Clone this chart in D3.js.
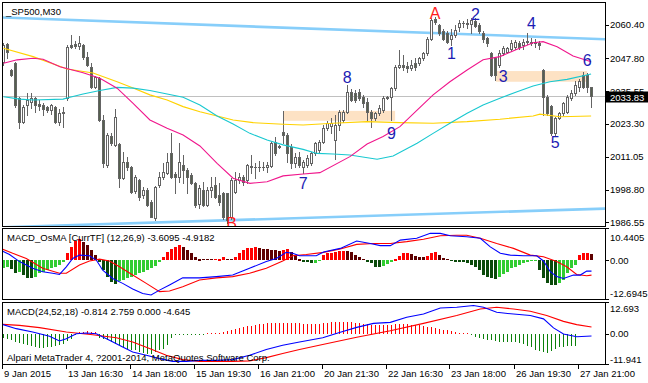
<!DOCTYPE html>
<html><head><meta charset="utf-8">
<script src="https://cdn.jsdelivr.net/npm/d3@7"></script>
<style>
html,body{margin:0;padding:0;background:#fff;}
svg{display:block;font-family:"Liberation Sans",Arial,sans-serif;}
</style></head><body>
<svg id="c" width="648" height="383"></svg>
<script>
// ---------------- DATA ----------------
const symbolTitle = "_SP500,M30";
// [open, high, low, close] per bar
const ohlc = [
[2046.5,2053.6,2045.4,2052.9],[2053.2,2053.6,2048.0,2050.2],[2043.5,2043.7,2041.3,2041.6],[2046.0,2046.6,2029.8,2030.4],
[2032.9,2033.5,2021.7,2024.2],[2024.2,2030.4,2023.8,2029.5],[2030.4,2035.0,2026.7,2032.3],[2031.6,2035.0,2029.2,2032.9],
[2032.9,2033.3,2027.9,2030.4],[2030.8,2032.3,2028.5,2030.0],[2030.4,2031.3,2026.7,2028.8],[2029.5,2030.0,2027.9,2028.5],
[2028.5,2030.8,2027.0,2030.4],[2029.8,2030.0,2023.5,2024.2],[2024.2,2028.8,2022.9,2027.5],[2027.9,2029.5,2022.3,2027.3],
[2032.9,2052.9,2032.3,2052.2],[2052.9,2056.6,2051.8,2052.2],[2053.2,2054.5,2051.6,2052.5],[2052.5,2056.2,2051.2,2053.5],
[2052.9,2053.2,2047.5,2048.5],[2048.5,2050.4,2045.0,2045.4],[2044.7,2046.0,2036.8,2037.3],[2037.3,2041.3,2036.6,2040.8],
[2040.4,2041.0,2024.3,2024.8],[2024.8,2026.7,2007.3,2008.6],[2008.0,2020.1,2007.3,2019.2],[2018.8,2019.8,2015.4,2016.3],
[2015.4,2028.8,2015.0,2026.0],[2015.8,2016.1,1999.8,2003.0],[2003.0,2012.9,2002.6,2009.2],[2009.2,2011.1,2006.1,2007.3],
[2007.3,2007.6,1997.4,1998.0],[1998.4,2004.2,1997.4,2003.6],[2002.3,2002.6,1994.9,1996.1],[1996.7,1999.8,1995.5,1998.6],
[1998.6,1999.2,1992.6,1993.0],[1994.2,1994.9,1988.4,1988.6],[1988.0,2000.1,1987.4,1999.8],[2000.5,2005.5,1999.6,2003.6],
[2003.6,2008.8,2002.6,2005.5],[2004.8,2012.3,2004.6,2009.2],[2012.6,2019.8,2003.2,2003.6],[2004.6,2005.5,1997.4,2003.6],
[2003.6,2016.1,2001.7,2009.2],[2008.0,2011.7,2001.1,2006.1],[2006.1,2006.7,1997.4,2003.6],[2004.2,2004.8,2000.9,2001.3],
[2001.1,2001.7,1992.4,1993.0],[1993.4,2000.5,1991.7,1999.2],[1998.6,2001.7,1992.6,1993.0],[1993.0,1999.8,1992.6,1998.6],
[1998.6,2003.6,1996.1,1999.8],[2000.5,2003.6,1995.5,1996.1],[1996.7,2001.1,1993.0,1994.2],[1997.4,1998.0,1987.6,1988.6],
[1997.4,1997.6,1986.1,1987.4],[1988.6,2003.0,1987.6,2002.3],[1998.0,2005.5,1997.6,2002.3],[2002.3,2005.1,2001.1,2003.6],
[2003.6,2004.2,2000.5,2001.7],[2002.3,2008.3,2001.3,2008.0],[2007.6,2011.7,2004.8,2007.1],[2007.3,2008.6,2003.0,2007.4],
[2007.3,2009.6,2005.8,2007.3],[2007.4,2009.2,2006.1,2007.3],[2007.3,2009.2,2005.5,2008.0],[2007.6,2016.7,2007.3,2016.1],
[2016.7,2018.6,2011.7,2012.3],[2015.1,2015.4,2014.2,2014.6],[2020.4,2028.3,2016.1,2019.2],[2019.2,2019.8,2009.2,2012.3],
[2014.8,2015.8,2006.7,2008.8],[2008.8,2012.6,2007.3,2011.1],[2011.1,2012.9,2007.3,2008.0],[2007.3,2009.8,2004.8,2009.2],
[2008.0,2011.7,2007.4,2010.5],[2008.6,2013.0,2008.0,2012.3],[2012.3,2016.7,2011.7,2016.1],[2013.6,2017.3,2013.0,2016.7],
[2016.7,2022.9,2016.1,2021.7],[2021.7,2024.6,2021.1,2023.6],[2022.6,2025.4,2019.8,2023.6],[2017.3,2026.7,2010.1,2022.9],
[2022.9,2028.5,2021.1,2027.9],[2024.8,2028.5,2024.2,2027.9],[2027.9,2037.9,2027.3,2035.4],[2035.4,2036.3,2032.0,2032.3],
[2035.0,2036.0,2031.7,2032.3],[2035.4,2036.3,2032.3,2032.9],[2033.5,2034.2,2029.8,2031.0],[2031.7,2032.9,2024.8,2027.9],
[2027.9,2028.5,2022.1,2025.4],[2025.4,2027.9,2024.8,2027.3],[2027.3,2030.4,2026.7,2029.2],[2028.5,2033.8,2027.9,2032.9],
[2032.9,2033.8,2032.5,2033.5],[2033.3,2037.0,2024.8,2036.7],[2036.7,2045.4,2036.0,2044.8],[2044.8,2051.0,2044.1,2045.4],
[2045.4,2049.1,2043.5,2044.8],[2045.0,2046.6,2042.9,2044.1],[2044.1,2047.3,2043.5,2045.4],[2046.0,2047.9,2043.5,2044.8],
[2046.0,2048.5,2045.4,2047.9],[2047.9,2050.4,2047.3,2049.7],[2049.7,2055.7,2049.1,2055.0],[2055.0,2062.8,2054.7,2062.2],
[2062.5,2063.5,2060.7,2061.6],[2060.4,2060.7,2056.6,2057.2],[2057.9,2058.7,2054.7,2055.0],[2057.2,2057.9,2053.5,2054.1],
[2055.0,2058.7,2052.9,2056.6],[2056.6,2060.3,2056.0,2058.5],[2059.5,2062.2,2057.9,2061.2],[2061.1,2062.0,2059.7,2060.9],
[2060.7,2062.5,2059.1,2061.2],[2060.7,2062.8,2057.2,2062.2],[2062.0,2062.8,2059.5,2060.0],[2060.4,2061.0,2057.2,2057.9],
[2057.2,2057.9,2054.1,2055.0],[2055.4,2056.0,2052.5,2053.5],[2050.0,2050.4,2041.3,2041.6],[2047.9,2048.5,2039.8,2041.6],
[2045.4,2051.0,2044.8,2049.7],[2049.7,2052.5,2049.1,2051.6],[2050.4,2052.2,2050.0,2051.6],[2051.2,2054.7,2050.7,2053.7],
[2052.2,2054.7,2051.2,2054.1],[2053.5,2054.5,2051.2,2052.2],[2052.9,2055.0,2051.2,2054.1],[2054.2,2057.2,2053.2,2054.1],
[2054.1,2055.4,2052.9,2053.5],[2054.1,2055.0,2052.2,2053.5],[2053.7,2054.5,2051.2,2052.9],[2043.5,2043.8,2026.7,2033.5],
[2033.5,2034.2,2026.7,2027.3],[2030.0,2030.4,2019.2,2019.8],[2019.8,2026.0,2019.2,2025.4],[2025.4,2027.9,2025.1,2027.3],
[2027.3,2031.7,2026.7,2031.0],[2027.9,2034.2,2027.3,2033.5],[2032.9,2036.0,2032.3,2034.8],[2034.8,2039.2,2034.2,2037.9],
[2037.0,2040.0,2035.8,2039.2],[2041.6,2042.9,2036.7,2037.3],[2041.6,2042.3,2035.4,2037.0],[2037.0,2037.3,2029.8,2033.83]
];
const lastPrice = 2033.83;
const priceTicks = [2060.40, 2047.80, 2035.55, 2023.30, 2011.05, 1998.80, 1986.55];
const priceRange = [1985.15, 2068.93];

// moving averages: [barIndex, price]
const maYellow = [[0,2051.6],[7.4,2048.5],[15.9,2043.9],[22.4,2042.4],[28.4,2039.1],[32.4,2036.8],[36.6,2034.2],[40.9,2032.3],[44.9,2029.8],[49.1,2027.9],[53.4,2026.3],[57.4,2024.8],[62.4,2023.8],[69.9,2023.2],[74.9,2022.9],[82.4,2023.6],[90.9,2024.2],[99.1,2023.8],[107.4,2023.6],[115.9,2024.2],[124.1,2025.1],[132.4,2026.3],[134.1,2027.0],[139.1,2026.0],[146.9,2026.3]];
const maCyan = [[0,2033.5],[4.1,2032.6],[7.4,2032.3],[14.9,2032.6],[16.6,2033.3],[19.9,2034.5],[24.1,2035.8],[28.4,2037.0],[32.4,2036.7],[36.6,2035.8],[40.9,2034.5],[44.9,2033.3],[49.1,2030.4],[53.4,2026.3],[57.4,2023.3],[61.6,2019.8],[65.9,2017.3],[69.9,2015.5],[74.9,2013.8],[78.4,2012.3],[82.4,2012.1],[86.6,2011.7],[93.4,2010.1],[97.4,2011.3],[103.4,2016.1],[107.4,2019.8],[111.6,2023.6],[115.9,2027.3],[119.9,2030.4],[124.1,2032.9],[128.4,2035.4],[132.4,2037.5],[136.6,2039.1],[140.9,2040.0],[146.9,2042.0]];
const maMagenta = [[0,2046.0],[3.4,2047.3],[7.4,2047.9],[9.9,2047.5],[14.1,2044.7],[19.9,2042.5],[24.1,2040.4],[28.4,2036.7],[32.4,2031.0],[36.6,2024.8],[40.9,2021.7],[44.9,2019.2],[49.1,2015.1],[53.4,2008.6],[57.4,2003.0],[61.6,2001.1],[65.9,2001.7],[69.9,2003.9],[74.9,2004.6],[79.1,2005.1],[86.6,2011.1],[90.9,2015.8],[94.9,2018.6],[99.1,2022.3],[103.4,2028.5],[107.4,2034.2],[111.6,2039.1],[115.9,2043.5],[119.9,2047.3],[124.1,2048.5],[128.4,2051.3],[132.4,2053.7],[134.9,2054.1],[138.4,2052.2],[142.4,2048.7],[146.9,2046.6]];

const channelUpper = [[0,2063.1],[147,2055.2]];
const channelLower = [[0,1984.7],[147,1991.5]];
// [fromBar, toBar, priceTop, priceBottom]
const zones = [[69.9,97.9,2028.2,2024.5],[123.1,145.9,2043.1,2039.1]];
// [text, bar, price, colour]
const waveLabels = [["A",107.9,2064.5,"red"],["2",118.0,2064.1,"blue"],["1",112.0,2049.5,"blue"],["4",132.0,2061.0,"blue"],
  ["3",124.9,2041.0,"blue"],["6",145.9,2047.0,"blue"],["5",137.9,2016.3,"blue"],["8",85.9,2040.8,"blue"],
  ["9",97.0,2019.6,"blue"],["7",74.9,2000.9,"blue"],["B",57.0,1985.9,"red"]];

// MACD_OsMA panel
const osmaTitle = "MACD_OsMA [CurrTF] (12,26,9) -3.6095 -4.9182";
const osmaRange = [-12.6945, 10.4405];
const osma = [
-2.5,-2.2,-2.9,-4.3,-4.0,-4.9,-5.9,-6.0,-5.6,-4.3,
-3.8,-3.3,-2.7,-2.2,-1.6,-0.8,2.2,4.3,6.2,6.8,
6.0,4.9,3.3,1.6,-0.5,-3.3,-5.4,-7.1,-7.9,-6.8,
-6.5,-6.0,-5.4,-4.9,-4.3,-3.8,-3.3,-2.7,-1.9,-0.8,
1.1,2.7,3.6,4.3,4.9,4.3,3.3,2.2,1.1,0.5,
0.4,0.3,0.2,0.3,0.5,0.9,0.4,0.3,1.1,2.2,
3.3,3.8,4.0,4.3,3.8,3.6,3.5,3.3,3.2,3.0,
3.3,3.6,2.7,1.6,0.5,-0.5,-0.8,-1.1,-0.9,-0.3,
1.6,2.2,2.4,2.7,2.8,3.0,2.9,2.7,1.6,1.1,
0.3,-0.5,-1.1,-2.2,-2.3,-1.9,-1.4,-0.8,0.5,1.4,
2.2,2.3,1.9,1.4,1.1,1.0,1.4,2.2,2.7,1.6,
0.8,0.2,-0.3,-0.5,-0.6,-0.8,-1.1,-1.6,-2.2,-3.3,
-4.9,-5.7,-6.0,-6.1,-5.4,-4.7,-3.8,-2.7,-2.2,-1.6,
-1.1,-0.8,-0.3,-0.2,-3.3,-6.0,-7.6,-8.1,-8.2,-7.6,
-6.5,-4.3,-2.7,-1.6,1.6,2.2,2.3,1.9];
const osmaMain = [[-0.3,2.9],[1.5,1.8],[4,-0.5],[7.3,-2.7],[9.8,-3.8],[12.3,-4.3],[14,-4.7],[15.7,-2.2],[17.3,0.5],[19,1.6],[21.5,1.4],[23.2,0],[24.8,-3.3],[27.3,-6.0],[29.8,-7.6],[32.3,-9.4],[34.8,-10.9],[36.9,-11.4],[39,-9.8],[41.5,-8.1],[44.8,-5.8],[49,-5.8],[53.2,-5.4],[57.3,-4.9],[61.5,-2.7],[65.7,-0.5],[68.2,0.5],[70.7,2.5],[72.3,2.2],[74,1.4],[78.2,1.4],[80,2.6],[84.2,3.8],[88.3,6.2],[91.7,5.4],[94.2,4.7],[96.7,4.7],[99.2,6.5],[103.3,7.1],[106.7,8.7],[109.2,8.7],[111.7,7.9],[115.8,7.6],[119.2,7.1],[121.7,4.3],[124.2,2.2],[126.7,1.6],[130,1.4],[133.3,1.4],[135,-0.3],[136.7,-3.8],[138.3,-5.4],[140,-6.0],[142.5,-4.9],[144.2,-4.9],[145.8,-3.6],[147,-3.6095]];
const osmaSignal = [[-0.3,3.6],[2.3,2.2],[5.7,0.5],[9.8,-2.7],[14,-4.3],[15.7,-4.3],[19,-1.6],[21.5,-0.3],[24,0.3],[26.5,-0.3],[29,-2.2],[32.3,-4.9],[35.7,-7.6],[39,-10.3],[41.5,-10.1],[44.8,-8.7],[49,-6.5],[53.2,-5.8],[57.3,-5.4],[61.5,-4.3],[65.7,-2.7],[69.8,-0.3],[72.3,1.4],[75.7,1.8],[80,2.5],[84.2,3.6],[88.3,5.1],[92.5,5.4],[96.7,5.4],[100.8,6.0],[105,6.8],[109.2,7.9],[113.3,8.1],[115.8,8.1],[119.2,7.1],[123.3,5.4],[127.5,3.8],[131.7,1.6],[135,1.1],[138.3,-0.5],[140.8,-2.2],[143.3,-4.7],[145.8,-5.1],[147,-4.9182]];

// MACD panel
const macdTitle = "MACD(24,52,18) -0.814 2.759 0.000 -4.645";
const macdRange = [-11.941, 12.693];
const macdHist = [
-1.6,-1.9,-2.4,-3.2,-3.6,-3.8,-4.5,-4.9,-5.2,-5.4,
-5.4,-5.2,-5.2,-4.9,-4.5,-3.8,-2.8,-1.9,-0.6,0.6,
0.9,1.0,0.9,0.6,-1.5,-2.0,-2.5,-3.2,-3.8,-4.5,
-5.2,-5.8,-6.2,-6.5,-7.2,-7.6,-7.8,-7.8,-7.2,-6.5,
-5.8,-4.5,-1.5,-0.2,-0.2,-0.2,-0.2,-0.2,-0.2,-0.2,
-0.2,0,0,0,0.15,0.15,0.15,0.15,0.8,1.2,
1.6,2.0,2.4,2.7,3.0,3.3,3.6,3.8,4.0,4.2,
4.3,4.4,4.5,4.5,4.5,4.4,4.3,4.2,4.1,4.0,
3.9,3.9,4.0,4.2,4.4,4.6,4.7,4.8,4.8,4.7,
4.6,4.5,4.3,4.1,3.9,3.7,3.6,3.5,3.5,3.6,
3.7,3.8,3.8,3.8,3.8,3.7,3.6,3.4,3.2,2.9,
2.6,2.3,2.0,1.7,1.4,1.1,0.8,0.5,0.3,0.1,
0,-0.6,-1.1,-1.6,-2.0,-2.4,-2.6,-2.9,-3.3,-3.3,
-3.3,-3.3,-3.3,-3.7,-4.0,-4.6,-5.3,-6.4,-6.6,-7.3,
-7.7,-6.6,-6.0,-5.3,-5.0,-4.6,-4.6,-4.645];
const macdMain = [[-0.3,3.8],[3.2,2.1],[7.3,0.8],[11.5,-0.9],[14,-2.8],[15.7,-1.9],[18.2,0.1],[20.7,0.4],[23.2,0.1],[26.5,-2.5],[29.8,-5.2],[32.3,-7.2],[35.7,-8.5],[39,-9.8],[42.3,-10.9],[45.7,-10.9],[49,-10.5],[53.2,-10.5],[57.3,-10.2],[61.5,-8.5],[65.7,-6.2],[69.8,-4.5],[74,-3.2],[79.8,-1.5],[84.2,0.7],[88.3,2.6],[92.5,4.2],[96.7,4.6],[100.8,6.6],[105,7.9],[109.2,10.3],[113.3,10.6],[117.5,11.3],[120,10.6],[123.3,8.6],[127.5,7.9],[131.7,7.3],[135,6.0],[137.5,2.4],[140,0],[143.3,-1.1],[147,-0.814]];
const macdSignal = [[-0.3,3.8],[4,3.4],[9,2.5],[15.7,0.8],[22.3,-0.3],[28.2,-1.5],[32.3,-3.2],[36.5,-5.8],[40.7,-8.5],[44.8,-10.2],[49,-10.9],[57.3,-10.9],[61.5,-10.7],[65.7,-9.4],[69.8,-7.8],[74,-6.2],[79.8,-4.2],[88.3,-1.3],[96.7,1.3],[105,4.2],[113.3,7.3],[119.2,9.9],[123.3,10.6],[127.5,9.9],[131.7,9.0],[135.8,7.3],[140,5.0],[143.3,3.7],[147,2.759]];

const dateTicks = [[0,"9 Jan 2015"],[16,"13 Jan 16:30"],[32,"14 Jan 18:00"],[48,"15 Jan 19:30"],[64,"16 Jan 21:00"],
  [80,"20 Jan 21:30"],[96,"22 Jan 16:30"],[112,"23 Jan 18:00"],[128,"26 Jan 19:30"],[144,"27 Jan 21:00"]];
const copyright = "Alpari MetaTrader 4, ?2001-2014, MetaQuotes Software Corp.";

// ---------------- DRAW ----------------
const svg = d3.select("#c");
const L = 2, R = 605;
const P1 = [2, 226], P2 = [228, 299], P3 = [302, 364];
const FS = 9.5;

const x = d3.scaleLinear().domain([0, ohlc.length - 1]).range([3.5, 3.5 + 4 * (ohlc.length - 1)]);
const y = d3.scaleLinear().domain(priceRange).range([P1[1], P1[0]]);
const y2 = d3.scaleLinear().domain(osmaRange).range([P2[1], P2[0]]);
const y3 = d3.scaleLinear().domain(macdRange).range([P3[1], P3[0]]);

const defs = svg.append("defs");
function clip(id, p) {
  defs.append("clipPath").attr("id", id).append("rect")
    .attr("x", L + 1).attr("y", p[0] + 1).attr("width", R - L - 1).attr("height", p[1] - p[0] - 1);
}
clip("c1", P1); clip("c2", P2); clip("c3", P3);

const g1 = svg.append("g").attr("clip-path", "url(#c1)");
const g2 = svg.append("g").attr("clip-path", "url(#c2)");
const g3 = svg.append("g").attr("clip-path", "url(#c3)");

// zones
g1.selectAll("rect.zone").data(zones).join("rect").attr("class", "zone")
  .attr("x", d => x(d[0])).attr("width", d => x(d[1]) - x(d[0]))
  .attr("y", d => y(d[2])).attr("height", d => y(d[3]) - y(d[2]))
  .attr("fill", "#fde2c4");

// last price line
const yl = Math.round(y(lastPrice)) + 0.5;
g1.append("line").attr("x1", L).attr("x2", R).attr("y1", yl).attr("y2", yl)
  .attr("stroke", "#c0c0c0").attr("stroke-width", 1);

// channel lines (trend lines extended across the panel)
function extLine(pts) {
  const [a, b] = pts, k = (b[1] - a[1]) / (b[0] - a[0]);
  const i0 = -2, i1 = ohlc.length + 6;
  return [[i0, a[1] + k * (i0 - a[0])], [i1, a[1] + k * (i1 - a[0])]];
}
const ln1 = d3.line().x(d => x(d[0])).y(d => y(d[1]));
[channelUpper, channelLower].forEach(c => {
  g1.append("path").attr("d", ln1(extLine(c))).attr("fill", "none")
    .attr("stroke", "#87cefa").attr("stroke-width", 2.6);
});

// candles
const candle = g1.append("g").attr("shape-rendering", "crispEdges");
ohlc.forEach((d, i) => {
  const [o, h, l, c] = d, cx = x(i);
  candle.append("line").attr("x1", cx).attr("x2", cx)
    .attr("y1", Math.round(y(h))).attr("y2", Math.round(y(l)) + 1)
    .attr("stroke", "#646464");
  const yt = Math.round(y(Math.max(o, c))) + 0.5, yb = Math.round(y(Math.min(o, c))) + 0.5;
  if (yb - yt < 1) {
    candle.append("line").attr("x1", cx - 1.5).attr("x2", cx + 1.5).attr("y1", yt).attr("y2", yt)
      .attr("stroke", "#646464");
  } else {
    candle.append("rect").attr("x", cx - 1).attr("width", 2).attr("y", yt).attr("height", yb - yt)
      .attr("fill", c >= o ? "#ffffff" : "#55604e").attr("stroke", "#646464");
  }
});

// moving averages
[[maYellow, "#ffd200"], [maCyan, "#18c8d0"], [maMagenta, "#f0168c"]].forEach(([data, col]) => {
  g1.append("path").attr("d", ln1(data)).attr("fill", "none").attr("stroke", col).attr("stroke-width", 1.1);
});

// wave labels
g1.selectAll("text.wl").data(waveLabels).join("text").attr("class", "wl")
  .attr("x", d => x(d[1])).attr("y", d => y(d[2]))
  .attr("text-anchor", "middle").attr("dominant-baseline", "central")
  .attr("font-size", 16).attr("fill", d => d[3] === "red" ? "#ff1c1c" : "#1c1cb4")
  .text(d => d[0]);

// OsMA histogram
const z2 = y2(0);
g2.append("g").attr("shape-rendering", "crispEdges").selectAll("rect").data(osma).join("rect")
  .attr("x", (d, i) => x(i) - 1.5).attr("width", 3)
  .attr("y", d => Math.round(Math.min(y2(d), z2)))
  .attr("height", d => Math.max(1, Math.round(Math.abs(y2(d) - z2))))
  .attr("fill", (d, i) => {
    const p = i > 0 ? osma[i - 1] : d;
    if (d >= 0) return d >= p ? "#ff0000" : "#5e0000";
    return d >= p ? "#32cd32" : "#0a4a0a";
  });
const ln2 = d3.line().x(d => x(d[0])).y(d => y2(d[1]));
g2.append("path").attr("d", ln2(osmaSignal)).attr("fill", "none").attr("stroke", "#ff0000").attr("stroke-width", 1.1);
g2.append("path").attr("d", ln2(osmaMain)).attr("fill", "none").attr("stroke", "#0000ff").attr("stroke-width", 1.1);

// MACD histogram
const z3 = Math.round(y3(0));
g3.append("g").attr("shape-rendering", "crispEdges").selectAll("line").data(macdHist).join("line")
  .filter(d => d !== 0)
  .attr("x1", (d, i) => x(i)).attr("x2", (d, i) => x(i))
  .attr("y1", z3)
  .attr("y2", d => { const v = Math.round(y3(d)); return Math.abs(v - z3) < 1 ? z3 + (d > 0 ? -1 : 1) : v; })
  .attr("stroke", d => d > 0 ? "#ff0000" : "#0a800a");
const ln3 = d3.line().x(d => x(d[0])).y(d => y3(d[1]));
g3.append("path").attr("d", ln3(macdSignal)).attr("fill", "none").attr("stroke", "#ff0000").attr("stroke-width", 1.1);
g3.append("path").attr("d", ln3(macdMain)).attr("fill", "none").attr("stroke", "#0000ff").attr("stroke-width", 1.1);

// frames
[P1, P2, P3].forEach(p => {
  svg.append("rect").attr("x", L + 0.5).attr("y", p[0] + 0.5).attr("width", R - L).attr("height", p[1] - p[0])
    .attr("fill", "none").attr("stroke", "#000").attr("shape-rendering", "crispEdges");
});

// right axis
const ax = svg.append("g").attr("font-size", FS).attr("fill", "#000");
function tick(yy, label, ty) {
  svg.append("line").attr("x1", R).attr("x2", R + 4).attr("y1", Math.round(yy) + 0.5).attr("y2", Math.round(yy) + 0.5)
    .attr("stroke", "#000").attr("shape-rendering", "crispEdges");
  ax.append("text").attr("x", 610).attr("y", ty === undefined ? yy : ty).attr("dominant-baseline", "central").text(label);
}
priceTicks.forEach(p => tick(y(p), p.toFixed(2)));
tick(y2(osmaRange[1]), String(osmaRange[1]), y2(osmaRange[1]) + 9);
tick(y2(0), "0.00");
tick(y2(osmaRange[0]), String(osmaRange[0]), y2(osmaRange[0]) - 6);
tick(y3(macdRange[1]), String(macdRange[1]), y3(macdRange[1]) + 6);
tick(y3(0), "0.00");
tick(y3(macdRange[0]), String(macdRange[0]), y3(macdRange[0]) - 5);

// last price box
svg.append("rect").attr("x", 606).attr("y", yl - 5).attr("width", 42).attr("height", 11).attr("fill", "#000");
svg.append("text").attr("x", 610).attr("y", yl + 0.5).attr("dominant-baseline", "central")
  .attr("font-size", FS).attr("fill", "#fff").text(lastPrice.toFixed(2));

// titles
svg.append("text").attr("x", 6).attr("y", 11).attr("dominant-baseline", "central").attr("font-size", FS).attr("fill", "#000").text(symbolTitle);
svg.append("text").attr("x", 7).attr("y", P2[0] + 9.5).attr("dominant-baseline", "central").attr("font-size", FS).attr("fill", "#000").text(osmaTitle);
svg.append("text").attr("x", 7).attr("y", P3[0] + 9).attr("dominant-baseline", "central").attr("font-size", FS).attr("fill", "#000").text(macdTitle);
svg.append("text").attr("x", 7).attr("y", 357).attr("dominant-baseline", "central").attr("font-size", FS).attr("fill", "#000").text(copyright);

// date axis
dateTicks.forEach(([i, lab]) => {
  const tx = Math.round(x(i) - 2) + 0.5;
  svg.append("line").attr("x1", tx).attr("x2", tx).attr("y1", P3[1]).attr("y2", P3[1] + 5)
    .attr("stroke", "#000").attr("shape-rendering", "crispEdges");
  svg.append("text").attr("x", tx + 1.5).attr("y", 373.5).attr("dominant-baseline", "central")
    .attr("font-size", FS).attr("fill", "#000").text(lab);
});
</script>
</body></html>
